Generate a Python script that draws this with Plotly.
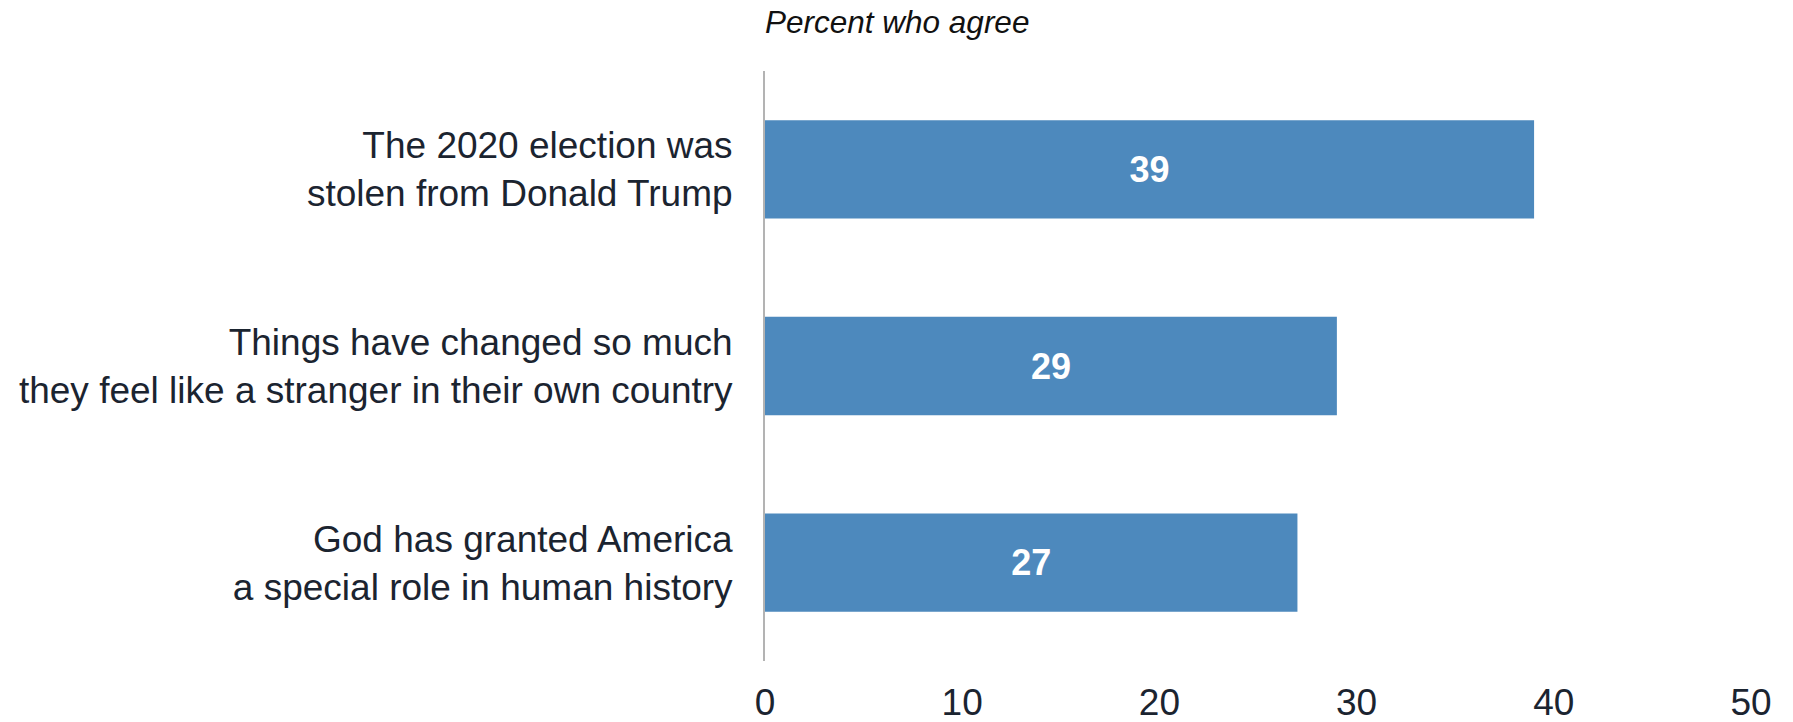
import plotly.graph_objects as go

categories = [
    "The 2020 election was<br>stolen from Donald Trump",
    "Things have changed so much<br>they feel like a stranger in their own country",
    "God has granted America<br>a special role in human history",
]
values = [39, 29, 27]
x_ticks = [0, 10, 20, 30, 40, 50]
title_text = "Percent who agree"

FONT = "Liberation Sans, Arial, sans-serif"
TEXT_COLOR = "#1b2430"
BAR_COLOR = "#4d89bd"

W, H = 1793, 722

fig = go.Figure(
    go.Bar(
        x=values,
        y=categories,
        orientation="h",
        width=0.5,
        marker=dict(color=BAR_COLOR, line=dict(width=0)),
        text=[str(v) for v in values],
        textposition="inside",
        insidetextanchor="middle",
        textangle=0,
        textfont=dict(family=FONT, size=36, color="white", weight="bold"),
        cliponaxis=False,
        hoverinfo="skip",
    )
)

fig.update_layout(
    width=W,
    height=H,
    margin=dict(l=765, r=42, t=71, b=61, autoexpand=False),
    paper_bgcolor="white",
    plot_bgcolor="white",
    showlegend=False,
    font=dict(family=FONT, color=TEXT_COLOR),
    title=dict(
        text=title_text,
        font=dict(family=FONT, size=31.5, color="#111111", style="italic"),
        xref="paper",
        x=0,
        xanchor="left",
        yref="container",
        y=1 - 22 / H,
        yanchor="middle",
    ),
)

fig.update_xaxes(
    range=[0, 50],
    tickvals=x_ticks,
    ticktext=[str(t) for t in x_ticks],
    showgrid=False,
    zeroline=False,
    showline=False,
    ticks="",
    automargin=False,
    ticklabelstandoff=16,
    tickfont=dict(family=FONT, size=37, color=TEXT_COLOR),
    fixedrange=True,
)

fig.update_yaxes(
    autorange="reversed",
    showgrid=False,
    zeroline=False,
    showline=True,
    linecolor="#b3b3b3",
    linewidth=2,
    ticks="",
    automargin=False,
    ticklabelstandoff=23,
    tickfont=dict(family=FONT, size=37, color=TEXT_COLOR),
    fixedrange=True,
)

fig.write_html(
    "out.html",
    config={"displayModeBar": False},
    post_script="document.body.style.margin='0';",
)
